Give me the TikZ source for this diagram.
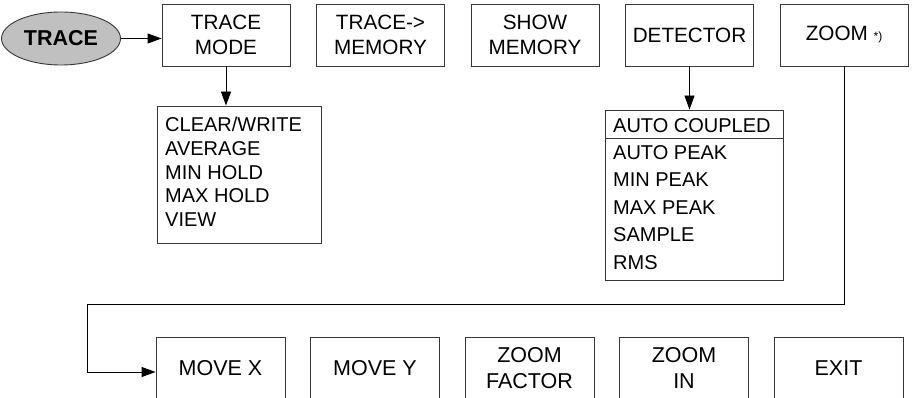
\documentclass[tikz,border=0pt]{standalone}
\usepackage{fontspec}
\setmainfont{Liberation Sans}
\usetikzlibrary{shapes.geometric,arrows.meta}
\definecolor{ellgray}{RGB}{192,192,192}
\definecolor{edgec}{RGB}{55,55,55}
\begin{document}
\begin{tikzpicture}[x=1pt,y=1pt,
  box/.style={draw=edgec,line width=0.9pt,minimum width=128pt,minimum height=62pt,inner sep=0pt,align=center,font=\fontsize{20.7}{25.6}\selectfont},
  bbox/.style={box,minimum width=129pt,font=\fontsize{21.5}{25.6}\selectfont},
  listbox/.style={draw=edgec,line width=0.9pt,inner sep=0pt},
  listtext/.style={anchor=north west,inner sep=0pt,align=left},
  conn/.style={line width=0.9pt,-{Triangle[length=14pt,width=10pt]}},
  ]
\useasboundingbox (0,0) rectangle (913,-398);
\clip (0,0) rectangle (913,-398);
% top row
\node[ellipse,draw=edgec,line width=0.9pt,fill=ellgray,minimum width=119pt,minimum height=53pt,inner sep=0pt,font=\bfseries\fontsize{21.5}{24}\selectfont] (trace) at (61,-38.5) {TRACE};
\node[box] (tm) at (226,-35) {TRACE\\MODE};
\node[box] (tmem) at (380.5,-35) {TRACE->\\MEMORY};
\node[box] (show) at (535,-35) {SHOW\\MEMORY};
\node[box] (det) at (689.5,-35) {DETECTOR};
\node[box] (zoom) at (844,-35) {ZOOM {\fontsize{12}{14}\selectfont *)}};
% lists
\node[listbox,minimum width=164pt,minimum height=137pt] (tlist) at (239,-174.5) {};
\node[listtext,font=\fontsize{20}{23.7}\selectfont] (tlisttext) at (165,-117) {CLEAR/WRITE\\AVERAGE\\MIN HOLD\\MAX HOLD\\VIEW};
\node[listbox,minimum width=178pt,minimum height=170pt] (dlist) at (694,-195) {};
\draw[edgec,line width=0.9pt] (dlist.west |- 0,-138) -- (dlist.east |- 0,-138);
\node[listtext,font=\fontsize{20}{27.4}\selectfont] (dlisttext) at (613,-118) {AUTO COUPLED\\AUTO PEAK\\MIN PEAK\\MAX PEAK\\SAMPLE\\RMS};
% bottom row
\node[bbox] (mx) at (220.5,-368) {MOVE X};
\node[bbox] (my) at (375,-368) {MOVE Y};
\node[bbox] (zf) at (529.5,-368) {ZOOM\\FACTOR};
\node[bbox] (zi) at (684,-368) {ZOOM\\IN};
\node[bbox] (ex) at (838.5,-368) {EXIT};
% connectors
\coordinate (bend) at (87,-304);
\draw[conn] (trace.east) -- (trace.east -| tm.west);
\draw[conn] (tm.south) -- (tm.south |- tlist.north);
\draw[conn] (det.south) -- (det.south |- dlist.north);
\draw[conn] (zoom.south) |- (bend) |- ([yshift=-4pt]mx.west);
\end{tikzpicture}
\end{document}
